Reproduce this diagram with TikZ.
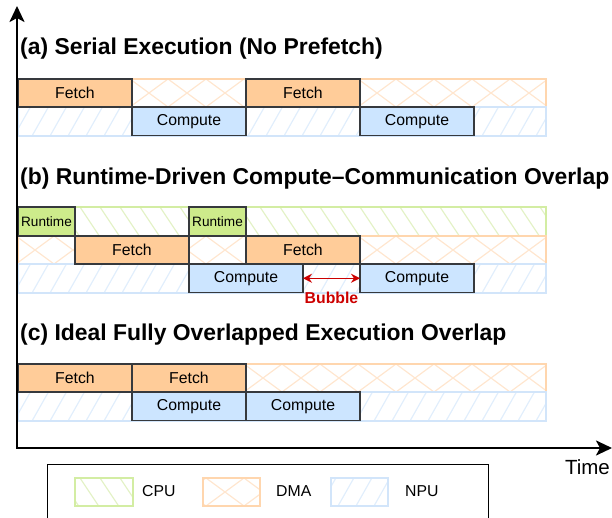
\documentclass[tikz,border=0pt]{standalone}
\usepackage{fontspec}
\setmainfont{Liberation Sans}
\usetikzlibrary{arrows.meta}
\definecolor{fetchfill}{HTML}{FFCC99}
\definecolor{compfill}{HTML}{CCE5FF}
\definecolor{runfill}{HTML}{CDEB8B}
\definecolor{boxline}{HTML}{36393D}
\definecolor{dmahatch}{HTML}{FFE6CF}
\definecolor{dmaedge}{HTML}{FFD6AE}
\definecolor{npuhatch}{HTML}{E1EEFC}
\definecolor{npuedge}{HTML}{D2E5FA}
\definecolor{cpuhatch}{HTML}{E3F2C6}
\definecolor{cpuedge}{HTML}{D3EDA3}
\definecolor{bubred}{HTML}{CC0000}
\newcommand{\npuHatch}[4]{%
  \begin{scope}
    \clip (#1,#2) rectangle (#3,#4);
    \foreach \xx in {-40,-22,...,640} {\draw[npuhatch,line width=1.2pt] (\xx,#4) -- ++(17,-30);}
  \end{scope}
  \draw[npuedge,line width=1.3pt] (#1,#2) rectangle (#3,#4);}
\newcommand{\cpuHatch}[4]{%
  \begin{scope}
    \clip (#1,#2) rectangle (#3,#4);
    \foreach \xx in {-40,-20,...,640} {\draw[cpuhatch,line width=1.2pt] (\xx,#2) -- ++(20,30);}
  \end{scope}
  \draw[cpuedge,line width=1.3pt] (#1,#2) rectangle (#3,#4);}
\newcommand{\dmaHatch}[4]{%
  \begin{scope}
    \clip (#1,#2) rectangle (#3,#4);
    \foreach \xx in {-60,-22,...,660} {\draw[dmahatch,line width=1.2pt] (\xx,#2) -- ++(38,28);
      \draw[dmahatch,line width=1.2pt] (\xx,#4) -- ++(38,-28);}
  \end{scope}
  \draw[dmaedge,line width=1.3pt] (#1,#2) rectangle (#3,#4);}
\begin{document}
\begin{tikzpicture}[x=1pt,y=-1pt,
  blk/.style={draw=boxline,line width=1.3pt,anchor=north west,inner sep=0pt,outer sep=0pt,font=\fontsize{15.8}{18}\selectfont},
  fetchbox/.style={blk,fill=fetchfill,minimum height=28pt},
  compbox/.style={blk,fill=compfill,minimum height=28.5pt},
  runbox/.style={blk,fill=runfill,minimum height=29pt,font=\fontsize{13.6}{15}\selectfont},
  ttl/.style={anchor=west,inner sep=0pt,font=\bfseries\fontsize{22.9}{26}\selectfont},
  axis/.style={line width=2.6pt,{Stealth[length=16pt,width=15pt,inset=4pt]}-{Stealth[length=16pt,width=15pt,inset=4pt]}},
  legtxt/.style={anchor=west,inner sep=0pt,font=\fontsize{15.8}{18}\selectfont}]
\useasboundingbox (0,0) rectangle (612,518);
\clip (0,0) rectangle (612,518);
% ---------- (a)
\node[ttl] (ta) at (20,49) {(a) Serial Execution (No Prefetch)};
\dmaHatch{18}{79}{546}{107}
\npuHatch{18}{107}{546}{136}
\node[fetchbox,minimum width=114pt] (af1) at (18,79) {Fetch};
\node[fetchbox,minimum width=114pt] (af2) at (246,79) {Fetch};
\node[compbox,minimum width=114pt] (ac1) at (132,107) {Compute};
\node[compbox,minimum width=114pt] (ac2) at (360,107) {Compute};
% ---------- (b)
\node[ttl] (tb) at (20,179) {(b) Runtime-Driven Compute–Communication Overlap};
\cpuHatch{18}{207}{546}{236}
\dmaHatch{18}{236}{546}{264}
\npuHatch{18}{264}{546}{293}
\node[runbox,minimum width=57pt] (br1) at (18,207) {Runtime};
\node[runbox,minimum width=57pt] (br2) at (189,207) {Runtime};
\node[fetchbox,minimum width=114pt] (bf1) at (75,236) {Fetch};
\node[fetchbox,minimum width=114pt] (bf2) at (246,236) {Fetch};
\node[compbox,minimum width=114pt] (bc1) at (189,264) {Compute};
\node[compbox,minimum width=114pt] (bc2) at (360,264) {Compute};
\draw[bubred,line width=1.5pt,{Stealth[length=9pt,width=9pt]}-{Stealth[length=9pt,width=9pt]}] (bc1.east) -- (bc2.west);
\node[text=bubred,font=\bfseries\fontsize{15.8}{18}\selectfont,inner sep=0pt] (bub) at (331.5,298) {Bubble};
% ---------- (c)
\node[ttl] (tc) at (20,335) {(c) Ideal Fully Overlapped Execution Overlap};
\dmaHatch{18}{364}{546}{392}
\npuHatch{18}{392}{546}{421}
\node[fetchbox,minimum width=114pt] (cf1) at (18,364) {Fetch};
\node[fetchbox,minimum width=114pt] (cf2) at (132,364) {Fetch};
\node[compbox,minimum width=114pt] (cc1) at (132,392) {Compute};
\node[compbox,minimum width=114pt] (cc2) at (246,392) {Compute};
% ---------- axes
\coordinate (ytip) at (17,6);
\coordinate (orig) at (17,448);
\coordinate (xtip) at (612,448);
\draw[axis] (ytip) -- (orig) -- (xtip);
\node[anchor=east,inner sep=0pt,font=\fontsize{20.5}{24}\selectfont] (time) at (610,467) {Time};
% ---------- legend
\node[draw=black,line width=1.4pt,anchor=north west,minimum width=441pt,minimum height=70pt,inner sep=0pt] (leg) at (47,464) {};
\cpuHatch{75}{478}{133}{506}
\node[legtxt] (lcpu) at (142,491.5) {CPU};
\dmaHatch{203}{478}{260}{506}
\node[legtxt] (ldma) at (276,491.5) {DMA};
\npuHatch{331}{478}{388}{506}
\node[legtxt] (lnpu) at (405,491.5) {NPU};
\end{tikzpicture}
\end{document}
